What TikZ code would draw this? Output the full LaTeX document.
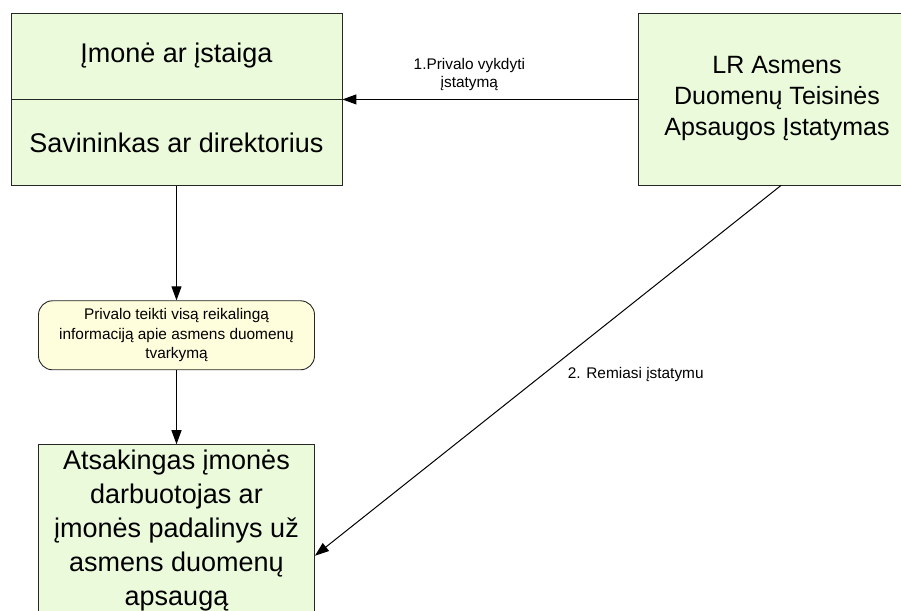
\documentclass[tikz,border=0pt]{standalone}
\usepackage{fontspec}
\setmainfont{Liberation Sans}
\usetikzlibrary{positioning,arrows.meta}
\definecolor{boxgreen}{RGB}{236,250,220}
\definecolor{boxyellow}{RGB}{255,254,220}
\begin{document}
\begin{tikzpicture}[
    x=1pt, y=1pt,
    box/.style={draw=black!85, line width=0.9pt, fill=boxgreen, align=center, inner sep=0pt},
    bigtext/.style={font=\fontsize{27}{34}\selectfont},
    note/.style={draw=black!85, line width=0.9pt, fill=boxyellow, rounded corners=14pt,
      align=center, minimum width=276pt, minimum height=69pt, inner sep=0pt,
      font=\fontsize{15.4}{19.5}\selectfont},
    lbl/.style={font=\fontsize{15.4}{18}\selectfont, align=center, inner sep=0pt},
    arr/.style={line width=1pt, -{Triangle[length=14pt,width=10pt]}}
  ]
  \clip (0,0) rectangle (901,610);
  \node[box, bigtext, minimum width=331pt, minimum height=86pt] (imone) at (176.5,554) {Įmonė ar įstaiga};
  \node[box, bigtext, minimum width=331pt, minimum height=86pt, below=0pt of imone] (savininkas) {Savininkas ar direktorius};
  \node[note, below=114pt of savininkas] (privalo) {Privalo teikti visą reikalingą\\informaciją apie asmens duomenų\\tvarkymą};
  \node[box, bigtext, minimum width=276pt, minimum height=172pt, below=74pt of privalo] (atsakingas)
    {Atsakingas įmonės\\darbuotojas ar\\įmonės padalinys už\\asmens duomenų\\apsaugą};
  \node[box, font=\fontsize{25}{31}\selectfont, minimum width=278pt, minimum height=172pt] (istatymas) at (777,511)
    {LR Asmens\\Duomenų Teisinės\\Apsaugos Įstatymas};
  \draw[arr] (savininkas) -- (privalo);
  \draw[arr] (privalo) -- (atsakingas);
  \draw[arr] (istatymas.west |- savininkas.north east) -- node[lbl, above=8pt, pos=0.57] (vykdyti) {1.Privalo vykdyti\\įstatymą} (savininkas.north east);
  \draw[arr] ([xshift=4pt]istatymas.south) -- node[lbl, anchor=west, pos=0.51, xshift=24pt] (remiasi) {2. Remiasi įstatymu} ([yshift=-25pt]atsakingas.east);
\end{tikzpicture}
\end{document}
